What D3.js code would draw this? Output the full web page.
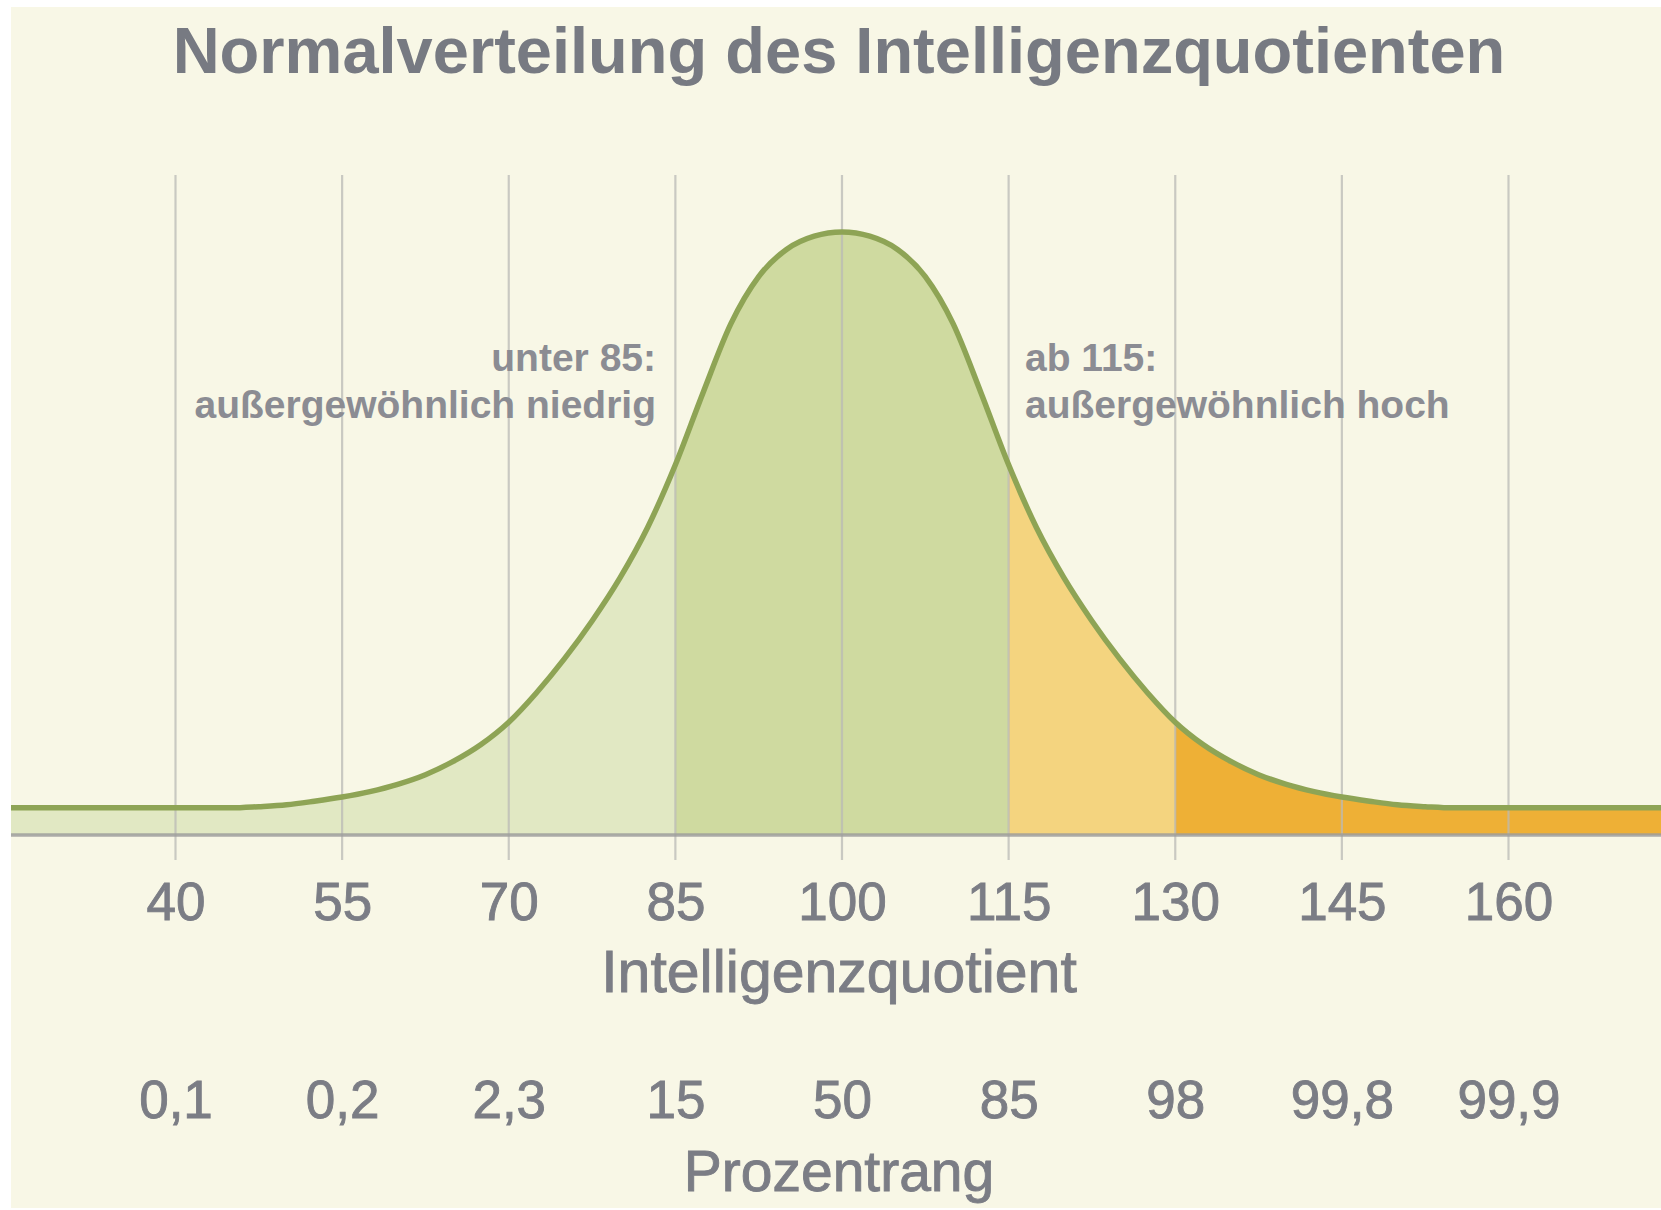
<!DOCTYPE html>
<html>
<head>
<meta charset="utf-8">
<script src="https://cdn.jsdelivr.net/npm/d3@7/dist/d3.min.js"></script>
<style>
  html, body { margin: 0; padding: 0; background: #ffffff; }
  svg { display: block; }
  text { font-family: "Liberation Sans", Arial, "DejaVu Sans", sans-serif; }
</style>
</head>
<body>
<svg id="chart" width="1661" height="1210"></svg>
<script>
// ---- data ----
const titleText = "Normalverteilung des Intelligenzquotienten";
const iqTicks = [40, 55, 70, 85, 100, 115, 130, 145, 160];
const percentileLabels = ["0,1", "0,2", "2,3", "15", "50", "85", "98", "99,8", "99,9"];
// curve: IQ values and relative height (peak = 100)
const iqPoints = [25, 35, 45, 47.5, 50, 52.5, 55, 57.5, 60, 62.5, 65, 67.5, 70, 72.5, 75, 77.5, 80, 82.5, 85, 87.5, 90, 92.5, 95, 97.5, 100,
                  102.5, 105, 107.5, 110, 112.5, 115, 117.5, 120, 122.5, 125, 127.5, 130, 132.5, 135, 137.5, 140, 142.5, 145, 147.5, 150, 152.5, 155, 165, 175];
const heights  = [4.5, 4.5, 4.5, 4.7, 5.0, 5.6, 6.3, 7.2, 8.4, 10.0, 12.2, 15.0, 18.7, 23.6, 29.2, 35.5, 42.6, 51.0, 61.4, 73.4, 84.8, 92.6, 97.1, 99.3, 100,
                  99.3, 97.1, 92.6, 84.8, 73.4, 61.4, 51.0, 42.6, 35.5, 29.2, 23.6, 18.7, 15.0, 12.2, 10.0, 8.4, 7.2, 6.3, 5.6, 5.0, 4.7, 4.5, 4.5, 4.5];
// shaded bands
const bandStarts = [20, 85, 115, 130];
const bandEnds   = [85, 115, 130, 180];
const bandColors = ["#e1e8c3", "#cfdaa0", "#f4d47f", "#eeb036"];
const noteLow  = ["unter 85:", "außergewöhnlich niedrig"];
const noteHigh = ["ab 115:", "außergewöhnlich hoch"];

const curve = iqPoints.map((d, i) => ({ iq: d, h: heights[i] }));

// ---- layout ----
const svg = d3.select("#chart");
const panel = { x0: 11, y0: 7, x1: 1661, y1: 1208 };
const baseY = 835, peakY = 232;
const x = d3.scaleLinear().domain([40, 160]).range([175.5, 1508.5]);
const y = d3.scaleLinear().domain([0, 100]).range([baseY, peakY]);
const textGrey = "#7b7d85";

svg.append("rect")
  .attr("x", panel.x0).attr("y", panel.y0)
  .attr("width", panel.x1 - panel.x0).attr("height", panel.y1 - panel.y0)
  .attr("fill", "#f8f7e6");

const defs = svg.append("defs");
defs.append("clipPath").attr("id", "panelClip")
  .append("rect").attr("x", panel.x0).attr("y", panel.y0)
  .attr("width", panel.x1 - panel.x0).attr("height", panel.y1 - panel.y0);

const plot = svg.append("g").attr("clip-path", "url(#panelClip)");

const area = d3.area().x(d => x(d.iq)).y0(baseY).y1(d => y(d.h)).curve(d3.curveMonotoneX);
const line = d3.line().x(d => x(d.iq)).y(d => y(d.h)).curve(d3.curveMonotoneX);

bandStarts.forEach((s, i) => {
  const id = "band" + i;
  defs.append("clipPath").attr("id", id)
    .append("rect").attr("x", x(s)).attr("y", 0)
    .attr("width", x(bandEnds[i]) - x(s)).attr("height", 1210);
  plot.append("path").datum(curve)
    .attr("clip-path", `url(#${id})`)
    .attr("d", area).attr("fill", bandColors[i]);
});

// vertical grid lines
plot.append("g").selectAll("line").data(iqTicks).join("line")
  .attr("x1", d => x(d)).attr("x2", d => x(d))
  .attr("y1", 175).attr("y2", 860)
  .attr("stroke", "#b9b9b6").attr("stroke-opacity", 0.75).attr("stroke-width", 2.2);

// baseline
plot.append("line")
  .attr("x1", panel.x0).attr("x2", panel.x1).attr("y1", baseY).attr("y2", baseY)
  .attr("stroke", "#9e9e9c").attr("stroke-opacity", 0.85).attr("stroke-width", 3.5);

// curve line
plot.append("path").datum(curve)
  .attr("d", line).attr("fill", "none")
  .attr("stroke", "#8ea455").attr("stroke-width", 5.5).attr("stroke-linejoin", "round");

// ---- title ----
svg.append("text")
  .attr("x", 839).attr("y", 73).attr("text-anchor", "middle")
  .attr("font-size", 65).attr("font-weight", "bold").attr("fill", "#777a82")
  .text(titleText);

// ---- IQ axis ----
const axIQ = d3.axisBottom(x).tickValues(iqTicks).tickSize(0).tickPadding(0).tickFormat(d3.format("d"));
const gIQ = svg.append("g").attr("transform", `translate(0, 882)`).call(axIQ);
gIQ.select(".domain").remove();
gIQ.selectAll("text").attr("font-size", 53).attr("fill", textGrey)
  .attr("stroke", textGrey).attr("stroke-width", 0.9)
  .attr("font-family", '"Liberation Sans", Arial, sans-serif').attr("dy", "0.71em").attr("y", 0);

svg.append("text")
  .attr("x", 839).attr("y", 992).attr("text-anchor", "middle")
  .attr("font-size", 59).attr("fill", textGrey)
  .attr("stroke", textGrey).attr("stroke-width", 0.9)
  .text("Intelligenzquotient");

// ---- percentile axis ----
const axPR = d3.axisBottom(x).tickValues(iqTicks).tickSize(0).tickPadding(0)
  .tickFormat((d, i) => percentileLabels[i]);
const gPR = svg.append("g").attr("transform", `translate(0, 1080)`).call(axPR);
gPR.select(".domain").remove();
gPR.selectAll("text").attr("font-size", 53).attr("fill", textGrey)
  .attr("stroke", textGrey).attr("stroke-width", 0.9)
  .attr("font-family", '"Liberation Sans", Arial, sans-serif').attr("dy", "0.71em").attr("y", 0);

svg.append("text")
  .attr("x", 839).attr("y", 1191).attr("text-anchor", "middle")
  .attr("font-size", 57).attr("fill", textGrey)
  .attr("stroke", textGrey).attr("stroke-width", 0.9)
  .text("Prozentrang");

// ---- annotations ----
const noteGrey = "#8b8c93";
const lowG = svg.append("text").attr("text-anchor", "end").attr("font-size", 39)
  .attr("font-weight", "bold").attr("fill", noteGrey);
noteLow.forEach((t, i) => lowG.append("tspan").attr("x", 656).attr("y", 371 + i * 47).text(t));
const highG = svg.append("text").attr("text-anchor", "start").attr("font-size", 39)
  .attr("font-weight", "bold").attr("fill", noteGrey);
noteHigh.forEach((t, i) => highG.append("tspan").attr("x", 1025).attr("y", 371 + i * 47).text(t));
</script>
</body>
</html>
